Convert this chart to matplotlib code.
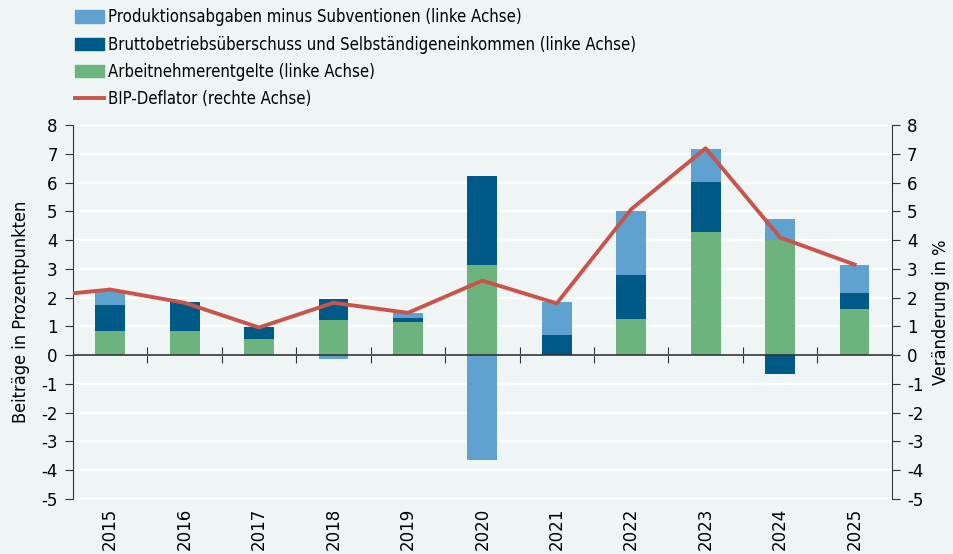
import matplotlib

matplotlib.use("Agg")
import matplotlib.pyplot as plt
from matplotlib.lines import Line2D
from matplotlib.patches import Patch
import numpy as np

years = ["2015", "2016", "2017", "2018", "2019", "2020", "2021", "2022", "2023", "2024", "2025"]
arbeitnehmer = [0.85, 0.83, 0.57, 1.22, 1.15, 3.13, 0.0, 1.24, 4.29, 3.99, 1.60]
betriebsueberschuss = [0.89, 1.00, 0.42, 0.73, 0.15, 3.10, 0.70, 1.55, 1.73, -0.66, 0.56]
produktionsabgaben = [0.54, 0.0, 0.0, -0.15, 0.16, -3.65, 1.13, 2.23, 1.15, 0.74, 0.98]
# deflator incl. 2014 value, so the line enters from the left edge
deflator_years = ["2014"] + years
deflator = [2.02, 2.28, 1.82, 0.96, 1.82, 1.47, 2.59, 1.80, 5.07, 7.19, 4.09, 3.15]

BG = "#eff5f5"
C_LIGHT = "#5fa2d0"
C_DARK = "#005a87"
C_GREEN = "#6db37d"
C_RED = "#c9544c"
TEXT_FONT = {"family": "DejaVu Sans", "stretch": "condensed"}

plt.rcParams["axes.unicode_minus"] = False

fig = plt.figure(figsize=(9.54, 5.54), dpi=100, facecolor=BG)
ax = fig.add_axes([0.0765, 0.0993, 0.8582, 0.6751])
ax.set_facecolor(BG)

x = np.arange(len(years))
width = 0.4


def stack(values_list, colors):
    pos = np.zeros(len(years))
    neg = np.zeros(len(years))
    for values, color in zip(values_list, colors):
        v = np.array(values)
        bottom = np.where(v >= 0, pos, neg)
        ax.bar(x, v, width, bottom=bottom, color=color, zorder=3)
        pos = pos + np.where(v >= 0, v, 0)
        neg = neg + np.where(v < 0, v, 0)


stack([arbeitnehmer, betriebsueberschuss, produktionsabgaben], [C_GREEN, C_DARK, C_LIGHT])

ax.set_xlim(-0.5, len(years) - 0.5)
ax.set_ylim(-5, 8)
ax.set_yticks(range(-5, 9))
ax.yaxis.grid(True, color="white", linewidth=1.6, zorder=0)
ax.set_axisbelow(True)
for side in ["top", "right", "bottom"]:
    ax.spines[side].set_visible(False)
ax.spines["left"].set_color("#333333")
ax.tick_params(axis="y", direction="out", length=6, color="#333333", labelsize=12, pad=5)
ax.set_xticks(x)
ax.set_xticklabels(years, rotation=90, fontsize=12)
ax.tick_params(axis="x", length=0, pad=6)
ax.set_ylabel("Beiträge in Prozentpunkten", fontsize=13, labelpad=8, **TEXT_FONT)

# zero line with category separators
ax.axhline(0, color="#333333", linewidth=1.2, zorder=4)
zero_axis = ax.secondary_xaxis(5 / 13)
zero_axis.set_xticks(np.arange(0.5, len(years) - 0.5, 1))
zero_axis.tick_params(direction="inout", length=12, color="#333333", labelbottom=False, labeltop=False)
zero_axis.spines["top"].set_visible(False)
zero_axis.spines["bottom"].set_visible(False)
zero_axis.set_xticklabels([])

ax2 = ax.twinx()
ax2.set_ylim(-5, 8)
ax2.set_yticks(range(-5, 9))
for side in ["top", "left", "bottom"]:
    ax2.spines[side].set_visible(False)
ax2.spines["right"].set_color("#333333")
ax2.tick_params(axis="y", direction="out", length=6, color="#333333", labelsize=12, pad=5)
ax2.plot(np.arange(-1, len(years)), deflator, color=C_RED, linewidth=2.8, zorder=5)
ax2.set_xlim(-0.5, len(years) - 0.5)
ax2.set_ylabel("Veränderung in %", fontsize=13, labelpad=6, **TEXT_FONT)

handles = [
    Patch(color=C_LIGHT),
    Patch(color=C_DARK),
    Patch(color=C_GREEN),
    Line2D([], [], color=C_RED, linewidth=2.8),
]
labels = [
    "Produktionsabgaben minus Subventionen (linke Achse)",
    "Bruttobetriebsüberschuss und Selbständigeneinkommen (linke Achse)",
    "Arbeitnehmerentgelte (linke Achse)",
    "BIP-Deflator (rechte Achse)",
]
fig.legend(handles, labels, loc="upper left", bbox_to_anchor=(0.063, 1.012), frameon=False,
           prop={"size": 12, **TEXT_FONT}, handlelength=1.75, handleheight=0.75,
           handletextpad=0.2, labelspacing=0.55)

fig.savefig("out.png", dpi=100, facecolor=BG)
